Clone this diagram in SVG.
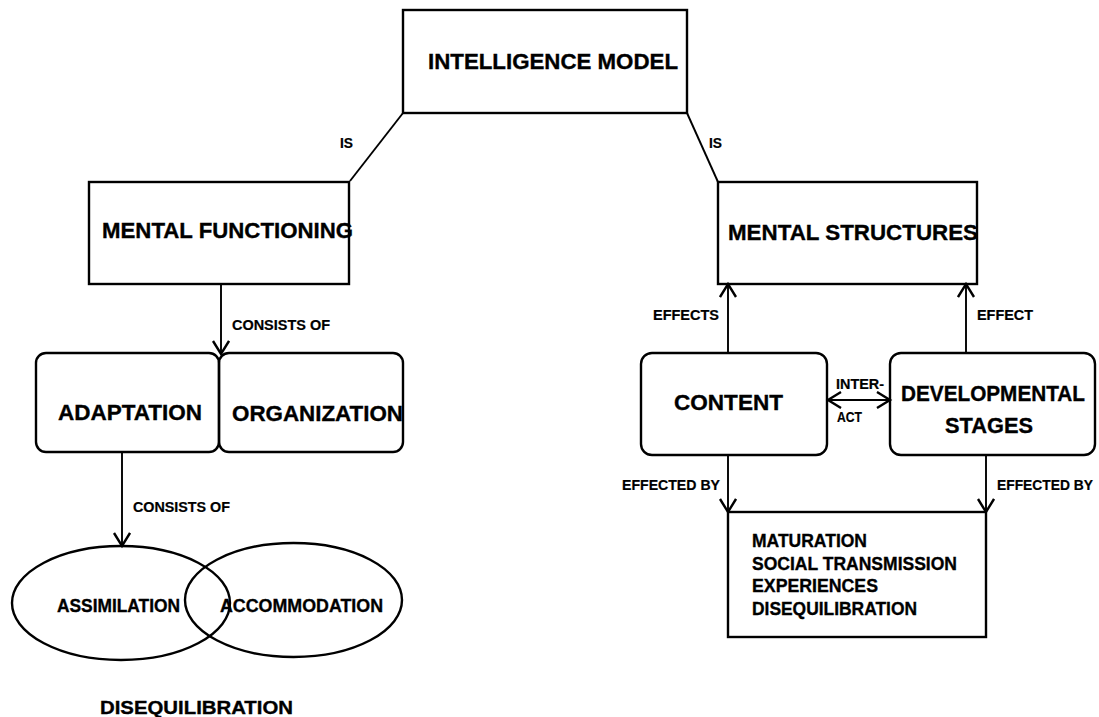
<svg xmlns="http://www.w3.org/2000/svg" width="1099" height="717" viewBox="0 0 1099 717">
<style>
.box{fill:none;stroke:#000;stroke-width:2.4}
.ln{fill:none;stroke:#000;stroke-width:1.9}
.t{font-family:"Liberation Sans",Arial,sans-serif;font-weight:bold;fill:#000;stroke:#000;stroke-width:0.35}
.big{font-size:22.5px}
.mid{font-size:19px}
.sm{font-size:14px;stroke-width:0.2}
</style>
<defs>
<marker id="ah" markerUnits="userSpaceOnUse" markerWidth="18" markerHeight="20" refX="14" refY="9" orient="auto-start-reverse">
<path d="M1,1 L14,9 L1,17" fill="none" stroke="#000" stroke-width="2.4"/>
</marker>
</defs>
<rect width="1099" height="717" fill="#fff"/>
<g id="connectors">
<polyline class="ln" points="403,113 350,181" stroke-width="2.4"/>
<polyline class="ln" points="687,113 718,182" stroke-width="2.4"/>
<text class="t sm" x="340" y="148" textLength="13" lengthAdjust="spacingAndGlyphs">IS</text>
<text class="t sm" x="709" y="148" textLength="13" lengthAdjust="spacingAndGlyphs">IS</text>
<line class="ln" x1="221" y1="284" x2="221" y2="354" marker-end="url(#ah)"/>
<text class="t sm" x="232" y="330" textLength="98" lengthAdjust="spacingAndGlyphs">CONSISTS OF</text>
<line class="ln" x1="122" y1="452" x2="122" y2="546" marker-end="url(#ah)"/>
<text class="t sm" x="133" y="512" textLength="97" lengthAdjust="spacingAndGlyphs">CONSISTS OF</text>
<line class="ln" x1="728" y1="353" x2="728" y2="284" marker-end="url(#ah)"/>
<text class="t sm" x="653" y="320" textLength="66" lengthAdjust="spacingAndGlyphs">EFFECTS</text>
<line class="ln" x1="966" y1="353" x2="966" y2="284" marker-end="url(#ah)"/>
<text class="t sm" x="977" y="320" textLength="56" lengthAdjust="spacingAndGlyphs">EFFECT</text>
<line class="ln" x1="828" y1="400" x2="890" y2="400" stroke-width="2.6" marker-start="url(#ah)" marker-end="url(#ah)"/>
<text class="t sm" x="836" y="389" textLength="48" lengthAdjust="spacingAndGlyphs">INTER-</text>
<text class="t sm" x="837" y="422" textLength="25" lengthAdjust="spacingAndGlyphs">ACT</text>
<line class="ln" x1="728" y1="455" x2="728" y2="512" marker-end="url(#ah)"/>
<text class="t sm" x="622" y="490" textLength="98" lengthAdjust="spacingAndGlyphs">EFFECTED BY</text>
<line class="ln" x1="986" y1="455" x2="986" y2="512" marker-end="url(#ah)"/>
<text class="t sm" x="997" y="490" textLength="96" lengthAdjust="spacingAndGlyphs">EFFECTED BY</text>
</g>
<g id="intelligence-model">
<rect class="box" x="403" y="10" width="284" height="103" stroke-width="2.8"/>
<text class="t big" x="428" y="69" textLength="250" lengthAdjust="spacingAndGlyphs">INTELLIGENCE MODEL</text>
</g>
<g id="mental-functioning">
<rect class="box" x="89" y="182" width="260" height="102"/>
<text class="t big" x="102" y="238" textLength="251" lengthAdjust="spacingAndGlyphs">MENTAL FUNCTIONING</text>
</g>
<g id="mental-structures">
<rect class="box" x="718" y="182" width="259" height="102"/>
<text class="t big" x="728" y="240" textLength="250" lengthAdjust="spacingAndGlyphs">MENTAL STRUCTURES</text>
</g>
<g id="adaptation">
<rect class="box" x="36" y="353" width="183" height="99" rx="10"/>
<text class="t big" x="58" y="420" textLength="144" lengthAdjust="spacingAndGlyphs">ADAPTATION</text>
</g>
<g id="organization">
<rect class="box" x="219" y="353" width="184" height="99" rx="10"/>
<text class="t big" x="232" y="421" textLength="171" lengthAdjust="spacingAndGlyphs">ORGANIZATION</text>
</g>
<g id="assimilation">
<ellipse class="box" cx="121" cy="603" rx="109" ry="57"/>
<text class="t mid" x="57" y="612" textLength="123" lengthAdjust="spacingAndGlyphs">ASSIMILATION</text>
</g>
<g id="accommodation">
<ellipse class="box" cx="293.5" cy="600" rx="108.5" ry="57"/>
<text class="t mid" x="220" y="612" textLength="163" lengthAdjust="spacingAndGlyphs">ACCOMMODATION</text>
</g>
<g id="disequilibration">
<text class="t mid" x="100" y="714" textLength="193" lengthAdjust="spacingAndGlyphs" font-size="20">DISEQUILIBRATION</text>
</g>
<g id="content">
<rect class="box" x="641" y="353" width="186" height="102" rx="11"/>
<text class="t big" x="674" y="410" textLength="109" lengthAdjust="spacingAndGlyphs">CONTENT</text>
</g>
<g id="developmental-stages">
<rect class="box" x="890" y="353" width="205" height="102" rx="11"/>
<text class="t big" x="901" y="401" textLength="184" lengthAdjust="spacingAndGlyphs" font-size="21.5">DEVELOPMENTAL</text>
<text class="t big" x="945" y="433" textLength="88" lengthAdjust="spacingAndGlyphs">STAGES</text>
</g>
<g id="factors">
<rect class="box" x="728" y="512" width="258" height="125"/>
<text class="t mid" x="752" y="547" textLength="115" lengthAdjust="spacingAndGlyphs" font-size="18">MATURATION</text>
<text class="t mid" x="752" y="570" textLength="205" lengthAdjust="spacingAndGlyphs" font-size="18">SOCIAL TRANSMISSION</text>
<text class="t mid" x="752" y="592" textLength="126" lengthAdjust="spacingAndGlyphs" font-size="18">EXPERIENCES</text>
<text class="t mid" x="752" y="615" textLength="165" lengthAdjust="spacingAndGlyphs" font-size="18">DISEQUILIBRATION</text>
</g>
</svg>
